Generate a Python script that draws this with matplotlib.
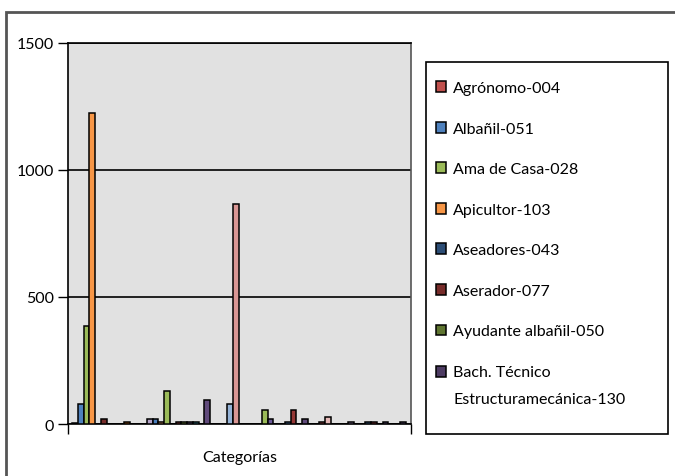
import matplotlib.pyplot as plt
from matplotlib.patches import Rectangle
import numpy as np

plt.rcParams['font.family'] = ['Lato', 'DejaVu Sans']

category = "Categorías"

# series shown in the (truncated) legend
series_names = ["Agrónomo-004", "Albañil-051", "Ama de Casa-028", "Apicultor-103",
                "Aseadores-043", "Aserador-077", "Ayudante albañil-050",
                "Bach. Técnico\nEstructuramecánica-130"]

# one value per series, left to right inside the single category
values = [3, 80, 385, 1225, 0, 20, 0, 0, 0, 6,
          0, 0, 0, 18, 18, 6, 130, 0, 6, 6,
          6, 6, 0, 95, 0, 0, 0, 80, 865, 0,
          0, 0, 0, 55, 20, 0, 0, 6, 55, 0,
          20, 0, 0, 6, 28, 0, 0, 0, 6, 0,
          0, 6, 6, 0, 6, 0, 0, 6]

colors = ["#C0504D", "#4F81BD", "#9BBB59", "#F79646", "#2C4D75", "#772C2A", "#5F7530", "#4D3B62",
          "#276A7C", "#B65708", "#729ACA", "#CD7371", "#AFC97A", "#B3A2C7", "#4A7EBB", "#F9AB6B",
          "#9BBB59", "#3A679C", "#9F3B38", "#7E9C40", "#664F83", "#358EA6", "#F47B16", "#604A7B",
          "#C3D69B", "#93CDDD", "#FAC090", "#95B3D7", "#D99694", "#4BACC6", "#8064A2", "#C0504D",
          "#4F81BD", "#9BBB59", "#6B5A9A", "#F79646", "#2C4D75", "#4F81BD", "#953735", "#5F7530",
          "#604A7B", "#276A7C", "#B65708", "#C0504D", "#E6B9B8", "#729ACA", "#CD7371", "#AFC97A",
          "#9983B5", "#6FBDD1", "#F9AB6B", "#3A679C", "#9F3B38", "#7E9C40", "#664F83", "#358EA6",
          "#F47B16", "#604A7B"]

fig = plt.figure(figsize=(6.75, 4.77), dpi=100)
ax = fig.add_axes([0.1007, 0.109, 0.5083, 0.7988])
ax.set_facecolor("#E1E1E1")

x = np.arange(len(values))
bars = ax.bar(x, values, width=1.0, color=colors, edgecolor="black", linewidth=1.1, zorder=3)

ax.set_ylim(0, 1500)
ax.set_xlim(-1.2, len(values) + 0.45)
ax.set_yticks([0, 500, 1000, 1500])
ax.yaxis.grid(True, color="black", linewidth=1.2, zorder=1)
ax.tick_params(axis="y", direction="out", length=7, width=1, labelsize=11.5, pad=3)
ax.set_xticks(ax.get_xlim())
ax.set_xticklabels([])
ax.tick_params(axis="x", direction="out", length=7, width=1)
ax.set_xlabel(category, fontsize=11.5, labelpad=8)

for side in ["left", "bottom", "top"]:
    ax.spines[side].set_color("black")
    ax.spines[side].set_linewidth(1.2)
ax.spines["right"].set_color("#555555")
ax.spines["right"].set_linewidth(1.2)

handles = [bars[i] for i in range(len(series_names))]
leg = fig.legend(handles, series_names, loc="upper left",
                 bbox_to_anchor=(0.631, 0.8474, 0.359, 0.0), mode="expand", borderaxespad=0,
                 fontsize=11.5, handlelength=0.65, handleheight=0.65, handletextpad=0.45,
                 labelspacing=1.66, borderpad=0.6, frameon=False)
leg.get_texts()[-1].set_linespacing(2.2)
# put the last swatch next to the first line of its two-line label
last = leg.legend_handles[-1]
last.set_y(last.get_y() + 10)

# legend frame and outer chart frame
fig.patches.append(Rectangle((0.6311, 0.0881), 0.3585, 0.7799, transform=fig.transFigure,
                             fill=False, edgecolor="black", linewidth=1.2, zorder=5))
fig.patches.append(Rectangle((0.009, -0.05), 1.1, 0.023 + 1.0, transform=fig.transFigure,
                             fill=False, edgecolor="#555555", linewidth=2, zorder=0))

fig.savefig("out.png", dpi=100)
